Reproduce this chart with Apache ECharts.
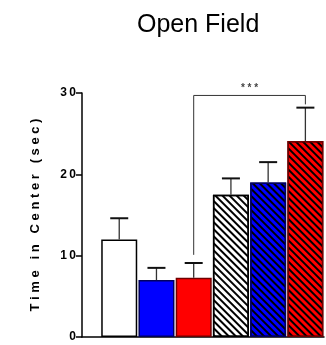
<!DOCTYPE html>
<html>
<head>
<meta charset="utf-8">
<script src="https://cdn.jsdelivr.net/npm/echarts@6/dist/echarts.min.js"></script>
<style>
  html, body { margin: 0; padding: 0; background: #fff; }
  #chart { width: 326px; height: 345px; }
</style>
</head>
<body>
<div id="chart"></div>
<script>
// group positions along the x axis
const groups = [1, 2, 3, 4, 5, 6];
const means = [12.0, 7.0, 7.3, 17.5, 19.0, 24.1];
const errTops = [14.6, 8.5, 9.1, 19.5, 21.5, 28.2];
const fills = ['#ffffff', '#0000ff', '#ff0000', '#ffffff', '#0000ff', '#ff0000'];
const edges = ['#000000', '#000060', '#700000', '#000000', '#000060', '#700000'];
const hatched = [false, false, false, true, true, true];
const yTicks = [0, 10, 20, 30];
// significance bracket: [from, to, leftFoot, top, rightFoot]
const bracket = [[3, 6, 10.1, 29.7, 28.6]];

const spaced = (s, sep) => String(s).split('').join(sep);

const chart = echarts.init(document.getElementById('chart'));

const barData = groups.map((g, i) => {
    const style = {
        color: fills[i],
        borderColor: edges[i],
        borderWidth: 1.5
    };
    if (hatched[i]) {
        style.decal = {
            symbol: 'rect',
            symbolSize: 1,
            dashArrayX: [1, 0],
            dashArrayY: [1.1, 2.1],
            rotation: Math.PI / 4,
            color: '#000'
        };
    }
    return {value: [g, means[i]], itemStyle: style};
});

const option = {
    animation: false,
    title: {
        text: 'Open Field',
        left: 132,
        top: 8,
        textStyle: {fontFamily: 'Liberation Sans', fontSize: 25, fontWeight: 'normal', color: '#000'}
    },
    grid: {left: 82, right: 2, top: 93, bottom: 8},
    xAxis: {
        type: 'value',
        min: 0,
        max: 6.5,
        axisLine: {show: true, onZero: false, lineStyle: {color: '#000', width: 1.5}},
        axisTick: {show: false},
        axisLabel: {show: false},
        splitLine: {show: false}
    },
    yAxis: {
        type: 'value',
        min: 0,
        max: 30,
        interval: 10,
        name: spaced('Time in Center (sec)', ' '),
        nameLocation: 'middle',
        nameGap: 40,
        nameTextStyle: {fontFamily: 'Liberation Sans', fontSize: 13, fontWeight: 'bold', color: '#000'},
        axisLine: {show: true, lineStyle: {color: '#000', width: 1.5}},
        axisTick: {show: true, length: 6, lineStyle: {color: '#000', width: 1.5}},
        axisLabel: {
            margin: 6,
            fontFamily: 'Liberation Sans',
            fontSize: 12,
            fontWeight: 'bold',
            color: '#000',
            formatter: v => yTicks.includes(v) ? spaced(v, '\u2009') : ''
        },
        splitLine: {show: false}
    },
    series: [
        {
            type: 'bar',
            barWidth: 36,
            data: barData,
            z: 2
        },
        {
            // error bars (upper only)
            type: 'custom',
            z: 3,
            data: groups.map((g, i) => [g, means[i], errTops[i]]),
            renderItem: (params, api) => {
                const base = api.coord([api.value(0), api.value(1)]);
                const top = api.coord([api.value(0), api.value(2)]);
                return {
                    type: 'group',
                    children: [
                        {type: 'line', shape: {x1: base[0], y1: base[1], x2: top[0], y2: top[1]},
                            style: {stroke: '#333', lineWidth: 1.3}},
                        {type: 'line', shape: {x1: top[0] - 9, y1: top[1], x2: top[0] + 9, y2: top[1]},
                            style: {stroke: '#111', lineWidth: 2}}
                    ]
                };
            }
        },
        {
            // significance bracket
            type: 'custom',
            z: 4,
            data: bracket,
            renderItem: (params, api) => {
                const a = api.coord([api.value(0), api.value(2)]);
                const b = api.coord([api.value(0), api.value(3)]);
                const c = api.coord([api.value(1), api.value(3)]);
                const d = api.coord([api.value(1), api.value(4)]);
                return {
                    type: 'group',
                    children: [
                        {type: 'polyline', shape: {points: [a, b, c, d]},
                            style: {stroke: '#333', lineWidth: 1, fill: null}},
                        {type: 'text', x: (b[0] + c[0]) / 2, y: b[1] - 2,
                            style: {text: '* * *', fill: '#444', font: 'bold 10px Liberation Sans',
                                align: 'center', verticalAlign: 'bottom'}}
                    ]
                };
            }
        }
    ]
};

chart.setOption(option);
</script>
</body>
</html>
